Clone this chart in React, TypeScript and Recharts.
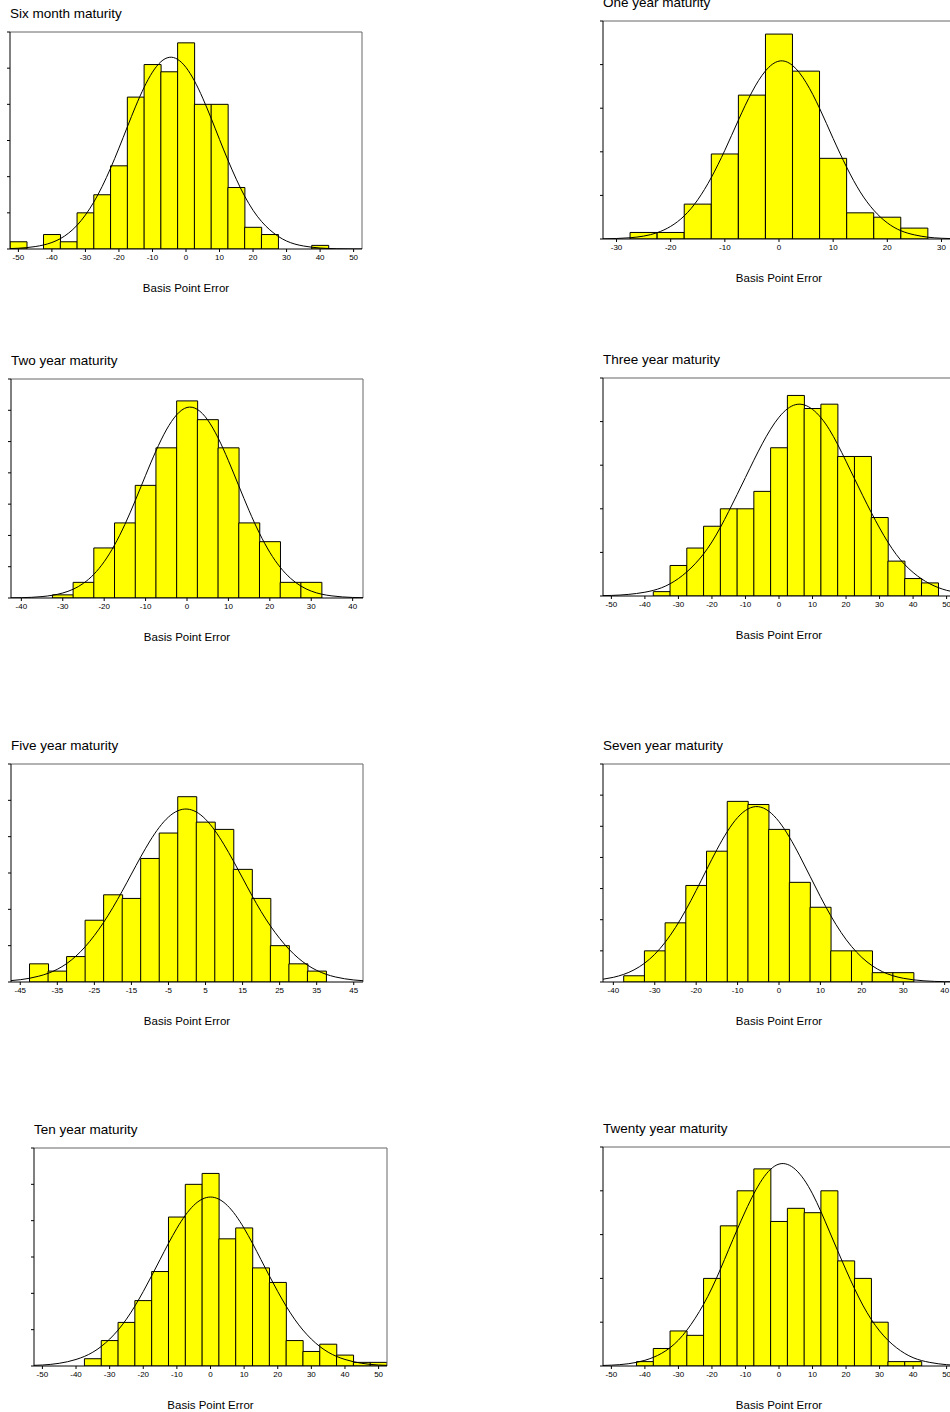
import React from 'react'
import { ComposedChart, Bar, Line, XAxis, YAxis, ReferenceLine } from 'recharts'

// bin centres (width 5 basis points)
const BINS_50 = [-50, -45, -40, -35, -30, -25, -20, -15, -10, -5, 0, 5, 10, 15, 20, 25, 30, 35, 40, 45, 50]
const BINS_45 = [-45, -40, -35, -30, -25, -20, -15, -10, -5, 0, 5, 10, 15, 20, 25, 30, 35, 40, 45]
const BINS_40 = [-40, -35, -30, -25, -20, -15, -10, -5, 0, 5, 10, 15, 20, 25, 30, 35, 40]
const BINS_30 = [-30, -25, -20, -15, -10, -5, 0, 5, 10, 15, 20, 25, 30]

// x positions of the fitted normal curve points
const CURVE_X_55 = [-55, -50, -45, -40, -35, -30, -25, -20, -15, -10, -5, 0, 5, 10, 15, 20, 25, 30, 35, 40, 45, 50, 55]
const CURVE_X_325 = [
  -32.5, -30, -27.5, -25, -22.5, -20, -17.5, -15, -12.5, -10, -7.5, -5, -2.5, 0,
  2.5, 5, 7.5, 10, 12.5, 15, 17.5, 20, 22.5, 25, 27.5, 30, 32.5,
]

// tick labels
const TICKS_50 = [-50, -40, -30, -20, -10, 0, 10, 20, 30, 40, 50]
const TICKS_45 = [-45, -35, -25, -15, -5, 5, 15, 25, 35, 45]
const TICKS_40 = [-40, -30, -20, -10, 0, 10, 20, 30, 40]
const TICKS_30 = [-30, -20, -10, 0, 10, 20, 30]

const Y_TICKS_50 = [0, 10, 20, 30, 40, 50]
const Y_TICKS_60 = [0, 10, 20, 30, 40, 50, 60]
const Y_TICKS_70 = [0, 10, 20, 30, 40, 50, 60, 70]
const Y_TICKS_100 = [0, 20, 40, 60, 80, 100]

// six month
const sixMonthCounts = [2, 0, 4, 2, 10, 15, 23, 42, 51, 49, 57, 40, 40, 17, 6, 4, 0, 0, 1, 0, 0]
const sixMonthCurve = [0.06, 0.21, 0.67, 1.8, 4.4, 9.4, 17.3, 27.9, 39.5, 48.9, 53.0, 50.2, 41.7, 30.3, 19.3, 10.7, 5.3, 2.2, 0.84, 0.27, 0.08, 0.02, 0]

// one year
const oneYearCounts = [0, 3, 3, 16, 39, 66, 94, 77, 37, 12, 10, 5, 0]
const oneYearCurve = [
  0.08, 0.23, 0.57, 1.33, 2.9, 5.8, 10.6, 18.0, 28.2, 40.7, 54.5, 67.4, 77.1, 81.6,
  79.6, 71.8, 59.9, 46.1, 32.9, 21.6, 13.2, 7.4, 3.8, 1.9, 0.83, 0.34, 0.12,
]

// two year
const twoYearCounts = [0, 0, 1, 5, 16, 24, 36, 48, 63, 57, 48, 24, 18, 5, 5, 0, 0]
const twoYearCurve = [0.02, 0.1, 0.45, 1.6, 4.7, 11.6, 23.5, 39.2, 53.7, 60.9, 56.9, 43.9, 27.9, 14.6, 6.3, 2.2, 0.67, 0.17, 0.04]

// three year
const threeYearCounts = [0, 0, 0, 1, 7, 11, 16, 20, 20, 24, 34, 46, 43, 44, 32, 32, 18, 8, 4, 3, 0]
const threeYearCurve = [0.05, 0.13, 0.36, 0.87, 1.9, 4.0, 7.4, 12.4, 19.4, 27.2, 34.9, 41.0, 43.9, 42.8, 38.2, 30.9, 23.0, 15.6, 9.5, 5.4, 2.8, 1.3, 0.55]

// five year
const fiveYearCounts = [0, 5, 3, 7, 17, 24, 23, 34, 41, 51, 44, 42, 31, 23, 10, 5, 3, 0, 0]
const fiveYearCurveX = [-50, -45, -40, -35, -30, -25, -20, -15, -10, -5, 0, 5, 10, 15, 20, 25, 30, 35, 40, 45, 50]
const fiveYearCurve = [0.23, 0.63, 1.6, 3.5, 7.1, 12.8, 20.5, 29.7, 38.8, 45.4, 47.6, 44.8, 37.8, 28.6, 19.4, 12.0, 6.6, 3.2, 1.4, 0.56, 0.2]

// seven year
const sevenYearCounts = [0, 2, 10, 19, 31, 42, 58, 57, 49, 32, 24, 10, 10, 3, 3, 0, 0]
const sevenYearCurveX = [-45, -40, -35, -30, -25, -20, -15, -10, -5, 0, 5, 10, 15, 20, 25, 30, 35, 40, 45]
const sevenYearCurve = [0.47, 1.5, 3.9, 8.9, 17.5, 29.4, 42.5, 52.8, 56.3, 51.5, 40.5, 27.4, 15.9, 7.9, 3.3, 1.2, 0.38, 0.1, 0.02]

// ten year
const tenYearCounts = [0, 0, 0, 2, 7, 12, 18, 26, 41, 50, 53, 35, 38, 27, 23, 7, 4, 6, 3, 1, 1]
const tenYearCurve = [0.09, 0.27, 0.74, 1.8, 3.8, 7.4, 12.9, 20.5, 29.3, 37.9, 44.2, 46.5, 44.2, 37.9, 29.3, 20.5, 12.9, 7.4, 3.8, 1.8, 0.74, 0.27, 0.09]

// twenty year
const twentyYearCounts = [0, 0, 1, 4, 8, 7, 20, 32, 40, 45, 33, 36, 35, 40, 24, 20, 10, 1, 1, 0, 0]
const twentyYearCurve = [0.06, 0.19, 0.51, 1.3, 2.9, 5.9, 10.9, 17.8, 26.6, 35.4, 42.6, 46.1, 44.8, 39.3, 30.8, 21.9, 13.9, 8.0, 4.2, 1.9, 0.82, 0.3, 0.1]

interface PanelProps {
  title: string
  left: number
  top: number
  width: number
  height: number
  domain: [number, number]
  xTicks: number[]
  yTicks: number[]
  bins: number[]
  counts: number[]
  curveX: number[]
  curveY: number[]
}

function Panel(p: PanelProps) {
  const barData = p.bins.map((x, i) => ({ x, n: p.counts[i] }))
  const curveData = p.curveX.map((x, i) => ({ x, y: p.curveY[i] }))
  const yMax = p.yTicks[p.yTicks.length - 1]

  return (
    <>
      <div
        style={{
          position: 'absolute',
          left: p.left,
          top: p.top - 26,
          fontSize: 13.5,
          lineHeight: '15px',
          whiteSpace: 'nowrap',
          color: '#000',
        }}
      >
        {p.title}
      </div>
      <div style={{ position: 'absolute', left: p.left - 10, top: p.top - 2 }}>
        <ComposedChart
          width={p.width + 12}
          height={p.height + 47}
          data={barData}
          margin={{ top: 2, right: 2, left: 0, bottom: 0 }}
          barCategoryGap={0}
          barGap={0}
        >
          <XAxis
            dataKey="x"
            type="number"
            domain={p.domain}
            ticks={p.xTicks}
            interval={0}
            allowDataOverflow
            height={45}
            tickSize={3}
            tickMargin={2}
            axisLine={{ stroke: '#000' }}
            tickLine={{ stroke: '#000' }}
            tick={{ fontSize: 8, fill: '#000' }}
            label={{ value: 'Basis Point Error', position: 'insideBottom', offset: 2.5, fontSize: 11.5, fill: '#000' }}
          />
          <XAxis xAxisId="curve" dataKey="x" type="number" domain={p.domain} allowDataOverflow hide />
          <YAxis
            type="number"
            domain={[0, yMax]}
            ticks={p.yTicks}
            tickFormatter={() => ''}
            tickSize={3}
            width={10}
            allowDataOverflow
            axisLine={{ stroke: '#000' }}
            tickLine={{ stroke: '#000' }}
          />
          <ReferenceLine y={yMax} stroke="#666" />
          <ReferenceLine x={p.domain[1]} stroke="#666" />
          <Bar dataKey="n" fill="#ffff00" stroke="#000" strokeWidth={1} isAnimationActive={false} />
          <Line
            xAxisId="curve"
            data={curveData}
            dataKey="y"
            type="natural"
            stroke="#000"
            strokeWidth={1}
            dot={false}
            isAnimationActive={false}
          />
        </ComposedChart>
      </div>
    </>
  )
}

export default function App() {
  return (
    <div
      style={{
        position: 'relative',
        width: 950,
        height: 1412,
        overflow: 'hidden',
        background: '#fff',
        fontFamily: '"Liberation Sans", Arial, sans-serif',
      }}
    >
      <style>{'body{margin:0;overflow:hidden}'}</style>
      <Panel title="Six month maturity" left={10} top={32} width={352} height={217}
        domain={[-52.5, 52.5]} xTicks={TICKS_50} yTicks={Y_TICKS_60}
        bins={BINS_50} counts={sixMonthCounts} curveX={CURVE_X_55} curveY={sixMonthCurve} />
      <Panel title="One year maturity" left={603} top={21} width={352} height={218}
        domain={[-32.5, 32.5]} xTicks={TICKS_30} yTicks={Y_TICKS_100}
        bins={BINS_30} counts={oneYearCounts} curveX={CURVE_X_325} curveY={oneYearCurve} />
      <Panel title="Two year maturity" left={11} top={379} width={352} height={219}
        domain={[-42.5, 42.5]} xTicks={TICKS_40} yTicks={Y_TICKS_70}
        bins={BINS_40} counts={twoYearCounts} curveX={BINS_45} curveY={twoYearCurve} />
      <Panel title="Three year maturity" left={603} top={378} width={352} height={218}
        domain={[-52.5, 52.5]} xTicks={TICKS_50} yTicks={Y_TICKS_50}
        bins={BINS_50} counts={threeYearCounts} curveX={CURVE_X_55} curveY={threeYearCurve} />
      <Panel title="Five year maturity" left={11} top={764} width={352} height={218}
        domain={[-47.5, 47.5]} xTicks={TICKS_45} yTicks={Y_TICKS_60}
        bins={BINS_45} counts={fiveYearCounts} curveX={fiveYearCurveX} curveY={fiveYearCurve} />
      <Panel title="Seven year maturity" left={603} top={764} width={352} height={218}
        domain={[-42.5, 42.5]} xTicks={TICKS_40} yTicks={Y_TICKS_70}
        bins={BINS_40} counts={sevenYearCounts} curveX={sevenYearCurveX} curveY={sevenYearCurve} />
      <Panel title="Ten year maturity" left={34} top={1148} width={353} height={218}
        domain={[-52.5, 52.5]} xTicks={TICKS_50} yTicks={Y_TICKS_60}
        bins={BINS_50} counts={tenYearCounts} curveX={CURVE_X_55} curveY={tenYearCurve} />
      <Panel title="Twenty year maturity" left={603} top={1147} width={352} height={219}
        domain={[-52.5, 52.5]} xTicks={TICKS_50} yTicks={Y_TICKS_50}
        bins={BINS_50} counts={twentyYearCounts} curveX={CURVE_X_55} curveY={twentyYearCurve} />
    </div>
  )
}
